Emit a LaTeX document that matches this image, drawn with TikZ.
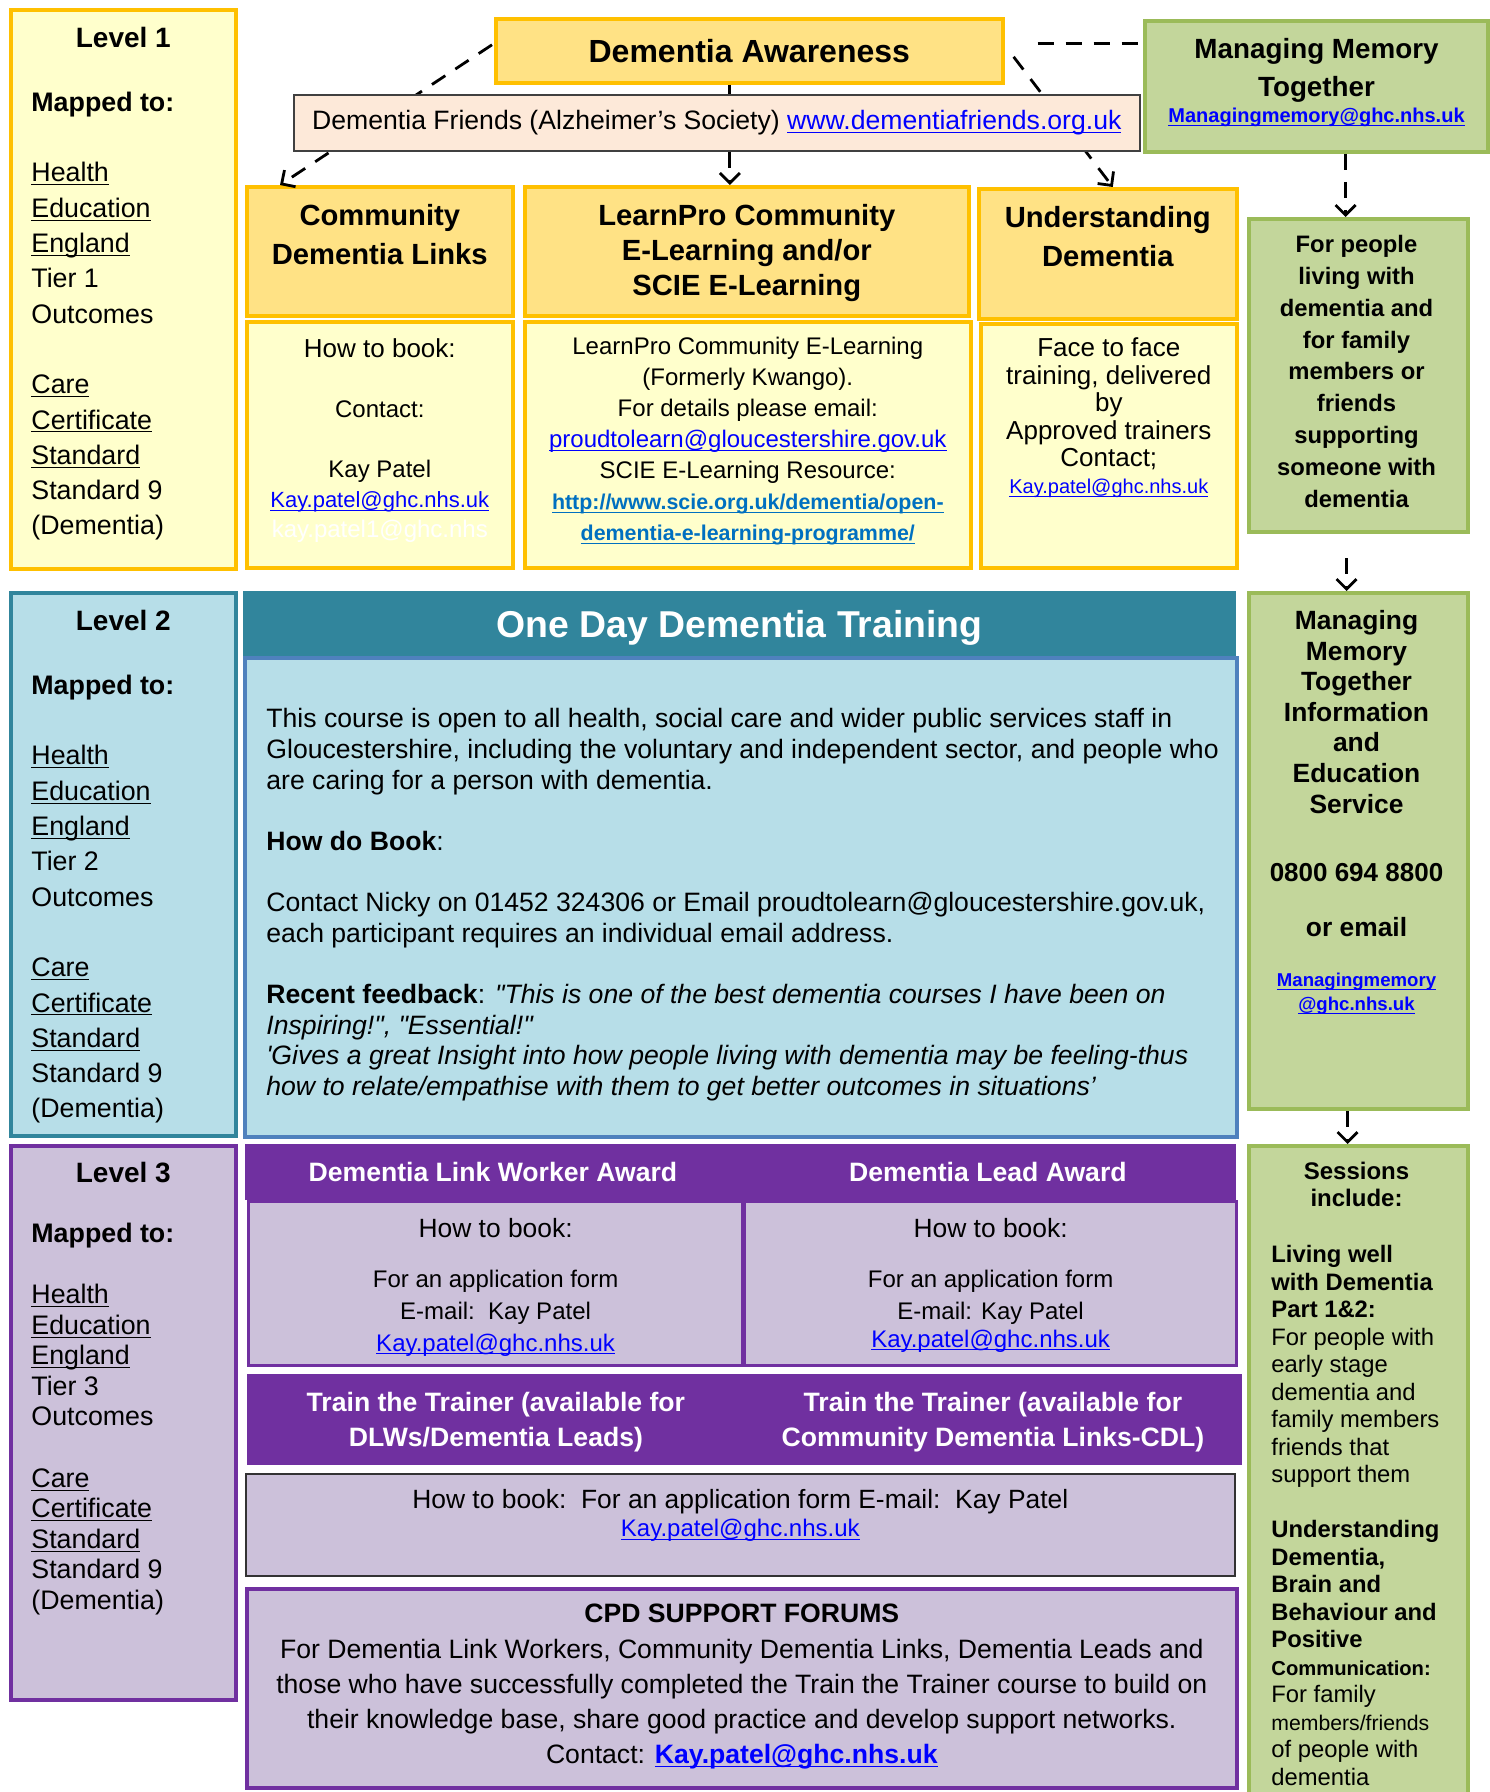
\documentclass[tikz,border=0pt]{standalone}
\usepackage{fontspec}
\setmainfont{Liberation Sans}[Ligatures=TeXOff]
\usetikzlibrary{positioning,calc,arrows.meta}

\definecolor{goldline}{HTML}{FFC000}
\definecolor{lightyel}{HTML}{FFFFCC}
\definecolor{headyel}{HTML}{FFE285}
\definecolor{peach}{HTML}{FDE9D9}
\definecolor{grfill}{HTML}{C3D69B}
\definecolor{grline}{HTML}{9BBB59}
\definecolor{lblue}{HTML}{B7DEE8}
\definecolor{tealhd}{HTML}{31859C}
\definecolor{blline}{HTML}{4F81BD}
\definecolor{lav}{HTML}{CCC1DA}
\definecolor{purp}{HTML}{7030A0}
\definecolor{linkblue}{HTML}{0000FF}
\definecolor{sciblue}{HTML}{0070C0}

\newcommand{\ulin}[1]{\underline{\raisebox{0pt}[\height][0pt]{#1}}}
\newcommand{\lnk}[1]{\textcolor{linkblue}{\ulin{#1}}}
\newcommand{\fsz}[2]{\fontsize{#1}{#2}\selectfont}

\tikzset{
  box/.style={draw, inner sep=0pt, anchor=north west},
  wh/.style 2 args={minimum width=#1*0.5pt, minimum height=#2*0.5pt},
  ybox/.style={box, fill=lightyel, draw=goldline, line width=1.8pt},
  yhead/.style={box, fill=headyel, draw=goldline, line width=1.8pt},
  grbox/.style={box, fill=grfill, draw=grline, line width=2pt},
  bbox/.style={box, fill=lblue, draw=tealhd, line width=1.8pt},
  pbox/.style={box, fill=lav, draw=purp, line width=1.6pt},
  phead/.style={box, fill=purp, draw=purp, text=white, align=center,
    font=\bfseries\fsz{13.3}{17.7}},
  htxt/.style={inner sep=0pt, align=center, anchor=north},
  ltxt/.style={inner sep=0pt, align=left, anchor=north west},
  dline/.style={line width=1.4pt, dash pattern=on 8pt off 6pt},
  darrow/.style={dline, -{Straight Barb[length=5pt,width=10pt]}}
}

\begin{document}
\begin{tikzpicture}[x=0.5pt, y=-0.5pt]
\useasboundingbox (0,0) rectangle (1489,1792);

% level columns
\node[ybox, wh={225}{559}] (L1) at (9,8) {};
\node[bbox, wh={225}{543}] (L2) at (9,591) {};
\node[pbox, line width=1.8pt, wh={225}{554}] (L3) at (9,1144) {};
\foreach \n/\sk/\ttop/\mtop in {1/17.65/19/83.5, 2/17.65/19/83.5, 3/15.3/18/78.5} {
  \node[htxt, font=\bfseries\fsz{14}{17}] at ($(L\n.north)+(0,\ttop)$) {Level \n};
  \node[ltxt, font=\fsz{13.4}{\sk}] at ($(L\n.north west)+(22,\mtop)$)
    {\textbf{Mapped to:}\\[\baselineskip]\ulin{Health}\\\ulin{Education}\\
     \ulin{England}\\Tier \n\\Outcomes\\[\baselineskip]\ulin{Care}\\
     \ulin{Certificate}\\\ulin{Standard}\\Standard 9\\(Dementia)};
}

% level 1
\node[yhead, wh={507}{64}, font=\bfseries\fsz{16}{19}] (aware) at (494,17) {Dementia Awareness};
\node[grbox, wh={343}{131}] (mmt) at (1143,19) {};
\node[htxt, font=\bfseries\fsz{13.9}{18.9}] at ($(mmt.north)+(0,19)$) {Managing Memory\\Together};
\node[anchor=base, inner sep=0pt, font=\bfseries\fsz{10}{12}] at ($(mmt.north)+(0,104)$)
  {\lnk{Managingmemory@ghc.nhs.uk}};

\node[yhead, wh={266}{129}] (cdlh) at (245,185) {};
\node[yhead, wh={444}{129}] (lph) at (523,185) {};
\node[yhead, wh={258}{130}] (udh) at (977,187) {};
\node[htxt, font=\bfseries\fsz{14.6}{19.4}] at ($(cdlh.north)+(0,19)$) {Community\\Dementia Links};
\node[htxt, font=\bfseries\fsz{14.6}{17.4}] at ($(lph.north)+(0,19)$) {LearnPro Community\\E-Learning and/or\\SCIE E-Learning};
\node[htxt, font=\bfseries\fsz{14.6}{19.4}] at ($(udh.north)+(0,19)$) {Understanding\\Dementia};

% dashed links behind the friends box
\draw[darrow] ($(aware.west)+(-2,-6)$) -- ($(cdlh.north west)+(35,0)$);
\draw[darrow] ($(aware.east)+(9,6)$) -- ($(udh.north)+(5,0)$);
\coordinate (hl) at ($(aware.east)+(33,-7)$);
\draw[dline] (hl) -- (hl -| mmt.west);

\node[box, fill=peach, draw=black!75, line width=0.8pt, wh={846}{56}, font=\fsz{13.3}{16}] (friends) at (293,94)
  {Dementia Friends (Alzheimer’s Society) \lnk{www.dementiafriends.org.uk}};
\coordinate (lpin) at ($(lph.north)+(-17,0)$);
\draw[line width=1.4pt] (aware.south -| lpin) -- (friends.north -| lpin);
\draw[darrow] (friends.south -| lpin) -- (lpin);

\node[ybox, wh={266}{246}] (cdlb) at (245,320) {};
\node[ybox, wh={446}{246}] (lpb) at (523,320) {};
\node[ybox, wh={256}{244}] (udb) at (979,322) {};
\node[htxt, font=\fsz{12}{15}] at ($(cdlb.north)+(0,18)$)
  {{\fsz{13}{15}How to book:}\\[\baselineskip]Contact:\\[\baselineskip]Kay Patel\\
   {\fsz{11}{15.5}\lnk{Kay.patel@ghc.nhs.uk}}\\{\color{white}kay.patel1@ghc.nhs}};
\node[htxt, font=\fsz{12}{15.5}] at ($(lpb.north)+(0,16.5)$)
  {LearnPro Community E-Learning\\(Formerly Kwango).\\For details please email:\\
   \lnk{proudtolearn@gloucestershire.gov.uk}\\SCIE E-Learning Resource:\\
   {\bfseries\fsz{10.7}{14.3}\color{sciblue}\ulin{http://www.scie.org.uk/dementia/open-}}\\
   {\bfseries\fsz{10.7}{14.3}\color{sciblue}\ulin{dementia-e-learning-programme/}}};
\node[htxt, font=\fsz{13}{13.7}] at ($(udb.north)+(0,15.7)$)
  {Face to face\\training, delivered\\by\\Approved trainers\\Contact;\\
   {\fsz{10}{13.7}\lnk{Kay.patel@ghc.nhs.uk}}};

% right column
\node[grbox, wh={219}{313}] (g1) at (1247,217) {};
\node[htxt, font=\bfseries\fsz{11.9}{15.9}] at ($(g1.north)+(-2,18)$)
  {For people\\living with\\dementia and\\for family\\members or\\friends\\supporting\\someone with\\dementia};
\coordinate (g1in) at ($(g1.north)+(-13,0)$);
\draw[darrow] (mmt.south -| g1in) -- (g1in);

\node[grbox, wh={219}{516}] (g2) at (1247,591) {};
\node[htxt, font=\bfseries\fsz{13.2}{15.3}] at ($(g2.north)+(-2,19)$)
  {Managing\\Memory\\Together\\Information\\and\\Education\\Service};
\node[anchor=base, inner sep=0pt, font=\bfseries\fsz{13}{15}] at ($(g2.north)+(-2,290.5)$) {0800 694 8800};
\node[anchor=base, inner sep=0pt, font=\bfseries\fsz{13.2}{15}] at ($(g2.north)+(-2,345)$) {or email};
\node[htxt, font=\bfseries\fsz{9.3}{12}] at ($(g2.north)+(-2,382)$)
  {\lnk{Managingmemory}\\\lnk{@ghc.nhs.uk}};
\coordinate (g2in) at ($(g2.north)+(-12,0)$);
\draw[darrow] ($(g1.south -| g2in)+(0,24)$) -- (g2in);

\node[grbox, wh={219}{680}] (sess) at (1247,1144) {};
\node[htxt, font=\bfseries\fsz{12}{13.8}] at ($(sess.north)+(-2,17.5)$) {Sessions\\include:};
\node[ltxt, font=\fsz{11.9}{13.75}] at ($(sess.north west)+(24,101)$)
  {\textbf{Living well}\\\textbf{with Dementia}\\\textbf{Part 1\&2:}\\For people with\\early stage\\
   dementia and\\family members\\friends that\\support them\\[\baselineskip]
   \textbf{Understanding}\\\textbf{Dementia,}\\\textbf{Brain and}\\\textbf{Behaviour and}\\
   \textbf{Positive}\\{\bfseries\fsz{10.1}{13.75}Communication:}\\For family\\
   {\fsz{10.6}{13.75}members/friends}\\of people with\\dementia};
\coordinate (ssin) at ($(sess.north)+(-11,0)$);
\draw[darrow] (g2.south -| ssin) -- (ssin);

% level 2
\node[box, fill=tealhd, draw=tealhd, wh={992}{65}, text=white, text depth=0pt, font=\bfseries\fsz{18.7}{22}] (odh) at (243,591)
  {One Day Dementia Training};
\node[box, fill=lblue, draw=blline, line width=1.8pt, wh={992}{479}] (odb) at (243,656) {};
\node[ltxt, font=\fsz{13.3}{15.33}] at ($(odb.north west)+(23,52)$)
  {This course is open to all health, social care and wider public services staff in\\
   Gloucestershire, including the voluntary and independent sector, and people who\\
   are caring for a person with dementia.\\[\baselineskip]
   \textbf{How do Book}:\\[\baselineskip]
   Contact Nicky on 01452 324306 or Email proudtolearn@gloucestershire.gov.uk,\\
   each participant requires an individual email address.\\[\baselineskip]
   \textbf{Recent feedback}: \textit{"This is one of the best dementia courses I have been on}\\
   \textit{Inspiring!", "Essential!"}\\
   \textit{'Gives a great Insight into how people living with dementia may be feeling-thus}\\
   \textit{how to relate/empathise with them to get better outcomes in situations’}};

% level 3
\node[phead, wh={495}{55}] (dlwh) at (245,1144) {Dementia Link Worker Award};
\node[phead, wh={495}{55}] (dlah) at (740,1144) {Dementia Lead Award};
\node[pbox, wh={494}{164}] (dlwb) at (247,1200) {};
\node[pbox, wh={492}{164}] (dlab) at (743,1200) {};
\node[htxt, font=\fsz{12}{16}] at ($(dlwb.north)+(0,17.5)$)
  {{\fsz{13.2}{16}How to book:}\\[9pt]For an application form\\E-mail:\ \ Kay Patel\\\lnk{Kay.patel@ghc.nhs.uk}};
\node[htxt, font=\fsz{12}{16}] at ($(dlab.north)+(0,17.5)$)
  {{\fsz{13.2}{16}How to book:}\\[9pt]For an application form\\E-mail: Kay Patel\\[-2pt]\lnk{Kay.patel@ghc.nhs.uk}};

\node[phead, wh={497}{90}, text depth=0pt] (ttl) at (247,1374) {Train the Trainer (available for\\DLWs/Dementia Leads)};
\node[phead, wh={497}{90}, text depth=0pt] (ttr) at (744,1374) {Train the Trainer (available for\\Community Dementia Links-CDL)};

\node[box, fill=lav, draw=black!80, line width=0.8pt, wh={989}{102}] (htb) at (245,1473) {};
\node[htxt, font=\fsz{13.2}{14.3}] at ($(htb.north)+(0,15.5)$)
  {How to book:\ \ For an application form E-mail:\ \ Kay Patel\\{\fsz{12}{14.3}\lnk{Kay.patel@ghc.nhs.uk}}};

\node[pbox, line width=1.8pt, wh={990}{199}] (cpd) at (245,1587) {};
\node[htxt, font=\fsz{13.3}{17.6}] at ($(cpd.north)+(0,17)$)
  {\textbf{CPD SUPPORT FORUMS}\\
   For Dementia Link Workers, Community Dementia Links, Dementia Leads and\\
   those who have successfully completed the Train the Trainer course to build on\\
   their knowledge base, share good practice and develop support networks.\\
   Contact: \textbf{\lnk{Kay.patel@ghc.nhs.uk}}};
\end{tikzpicture}
\end{document}
